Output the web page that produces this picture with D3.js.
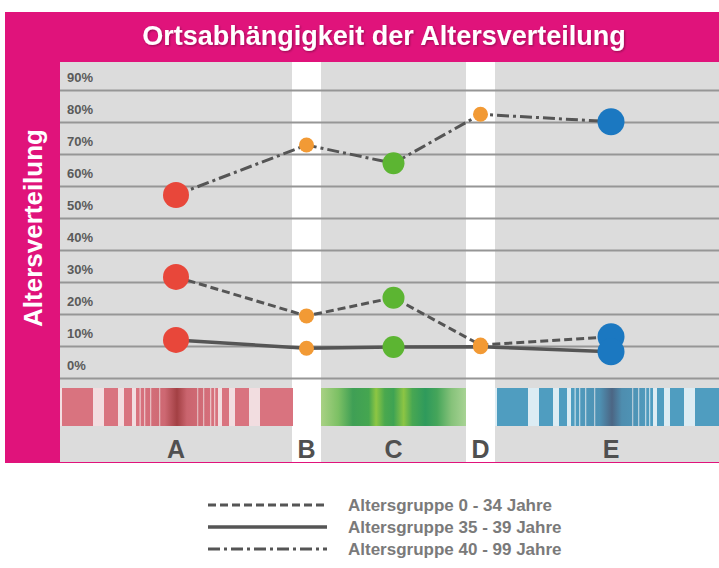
<!DOCTYPE html>
<html>
<head>
<meta charset="utf-8">
<script src="https://cdn.jsdelivr.net/npm/d3@7"></script>
<style>
  html, body { margin: 0; padding: 0; background: #ffffff; }
  svg { display: block; }
  text { font-family: "Liberation Sans", Arial, Helvetica, sans-serif; }
</style>
</head>
<body>
<svg id="chart" width="719" height="568"></svg>
<script>
// ---------------- DATA ----------------
const categories = ["A", "B", "C", "D", "E"];
const group0to34  = [31.6, 19.4, 25.1, 10.3, 12.9];
const group35to39 = [11.9,  9.3,  9.7,  9.8,  8.2];
const group40to99 = [57.2, 72.8, 67.1, 82.4, 80.1];
const yTickValues = [0, 10, 20, 30, 40, 50, 60, 70, 80, 90];
const seriesNames = ["Altersgruppe 0 - 34 Jahre", "Altersgruppe 35 - 39 Jahre", "Altersgruppe 40 - 99 Jahre"];
const chartTitle = "Ortsabhängigkeit der Altersverteilung";
const yAxisTitle = "Altersverteilung";

// ---------------- LAYOUT / STYLE ----------------
const W = 719, H = 568;
const plot = { left: 60, top: 62, right: 719, bottom: 462 };
const bandUnits = { A: 8, B: 1, C: 5, D: 1, E: 8 };         // relative column widths
const bandFill  = { A: "#dcdcdc", B: "#ffffff", C: "#dcdcdc", D: "#ffffff", E: "#dcdcdc" };
const dotStyle  = {
  A: { fill: "#e8473a", r: 13 },
  B: { fill: "#f29a35", r: 7.5 },
  C: { fill: "#5cb532", r: 11 },
  D: { fill: "#f29a35", r: 7.5 },
  E: { fill: "#1b78c1", r: 13.5 }
};
const seriesDash = ["8,4", null, "12,4,3,4"];
const lineColor = "#555555";
const pink = "#e0137b";

const svg = d3.select("#chart");
const defs = svg.append("defs");

// pink frame
svg.append("rect").attr("x", 5).attr("y", 12).attr("width", W - 5).attr("height", plot.bottom + 1 - 12).attr("fill", pink);

// x scale built on cumulative unit widths
const widths = categories.map(c => bandUnits[c]);
const starts = [0, ...d3.cumsum(widths)];
const unit = d3.scaleLinear().domain([0, d3.sum(widths)]).range([plot.left, plot.left + d3.sum(widths) * 29]);
const bandX0 = c => unit(starts[categories.indexOf(c)]);
const bandX1 = c => unit(starts[categories.indexOf(c) + 1]);
const xCenter = c => (bandX0(c) + bandX1(c)) / 2;

const y = d3.scaleLinear().domain([0, 90]).range([378, 90]);

// clip to plot
defs.append("clipPath").attr("id", "plotClip").append("rect")
  .attr("x", plot.left).attr("y", plot.top).attr("width", plot.right - plot.left).attr("height", plot.bottom - plot.top);

const g = svg.append("g").attr("clip-path", "url(#plotClip)");

// column backgrounds
g.selectAll("rect.band").data(categories).join("rect")
  .attr("class", "band")
  .attr("x", d => bandX0(d)).attr("y", plot.top)
  .attr("width", d => bandX1(d) - bandX0(d)).attr("height", plot.bottom - plot.top)
  .attr("fill", d => bandFill[d]);

// gridlines + tick labels via axis
const axis = d3.axisRight(y).tickValues(yTickValues).tickSize(plot.right - plot.left).tickFormat(d => d + "%");
const ax = g.append("g").attr("transform", `translate(${plot.left},0)`).call(axis);
ax.select(".domain").remove();
ax.selectAll(".tick line").attr("stroke", "#969696").attr("stroke-width", 2);
ax.selectAll(".tick text")
  .attr("x", 7).attr("dy", -8.5).attr("text-anchor", "start")
  .attr("fill", "#5a5a5a").attr("font-size", 13).attr("font-weight", "bold")
  .style("font-family", "'Liberation Sans', Arial, sans-serif");

// ---------- barcode strips ----------
const stripY = 388, stripH = 38;
// pattern relative to column centre (decoration)
const barSegs = [[-114, -83], [-72, -58], [-52, -44], [-40, 42], [46, 53], [59, 73], [84, 117]];
const barGaps = [-36.5, -32, -26, -17, 21, 27, 34, 38];
function barcode(cat, col, gapCol, darkCol) {
  const cx = xCenter(cat);
  const x0 = bandX0(cat), x1 = bandX1(cat);
  const bg = g.append("g");
  bg.append("rect").attr("x", x0).attr("y", stripY).attr("width", x1 - x0).attr("height", stripH).attr("fill", gapCol);
  bg.selectAll("rect.seg").data(barSegs).join("rect").attr("class", "seg")
    .attr("x", d => cx + d[0]).attr("y", stripY).attr("width", d => d[1] - d[0]).attr("height", stripH).attr("fill", col);
  bg.selectAll("rect.gap").data(barGaps).join("rect").attr("class", "gap")
    .attr("x", d => cx + d).attr("y", stripY).attr("width", 1.3).attr("height", stripH).attr("fill", gapCol).attr("opacity", 0.8);
  const gid = "dark" + cat;
  const lg = defs.append("linearGradient").attr("id", gid).attr("gradientUnits", "userSpaceOnUse")
    .attr("x1", cx - 40).attr("x2", cx + 42).attr("y1", 0).attr("y2", 0);
  [[0, 0], [0.35, 0.15], [0.5, 0.7], [0.62, 0.2], [1, 0]].forEach(s =>
    lg.append("stop").attr("offset", s[0]).attr("stop-color", darkCol).attr("stop-opacity", s[1]));
  bg.append("rect").attr("x", cx - 40).attr("y", stripY).attr("width", 82).attr("height", stripH).attr("fill", `url(#${gid})`);
}
barcode("A", "#d9737f", "#f2dde0", "#8c2a2a");
barcode("E", "#4f9dc0", "#dcecf3", "#4a4e6a");

// green gradient strip for C
{
  const x0 = bandX0("C"), x1 = bandX1("C");
  const lg = defs.append("linearGradient").attr("id", "greenC").attr("x1", 0).attr("x2", 1).attr("y1", 0).attr("y2", 0);
  [[0, "#a9d184"], [0.12, "#7cc064"], [0.22, "#3f9f55"], [0.33, "#45a650"], [0.38, "#8dc643"], [0.44, "#4aa84e"],
   [0.5, "#3fa353"], [0.57, "#8cc544"], [0.63, "#48a752"], [0.72, "#2f9a5c"], [0.8, "#45a55a"], [0.9, "#86c27a"], [1, "#a8d394"]]
    .forEach(s => lg.append("stop").attr("offset", s[0]).attr("stop-color", s[1]));
  g.append("rect").attr("x", x0).attr("y", stripY).attr("width", x1 - x0).attr("height", stripH).attr("fill", "url(#greenC)");
}

// category letters
g.selectAll("text.cat").data(categories).join("text").attr("class", "cat")
  .attr("x", d => xCenter(d)).attr("y", 458).attr("text-anchor", "middle")
  .attr("font-size", 25).attr("font-weight", "bold").attr("fill", "#505050")
  .text(d => d);

// ---------- series lines ----------
const series = [group0to34, group35to39, group40to99];
const line = d3.line().x((d, i) => xCenter(categories[i])).y(d => y(d));
const lg2 = g.append("g");
series.forEach((s, k) => {
  lg2.append("path").datum(s).attr("d", line)
    .attr("fill", "none").attr("stroke", lineColor).attr("stroke-width", k === 1 ? 3.5 : 3)
    .attr("stroke-dasharray", seriesDash[k]);
});
// dots
series.forEach(s => {
  g.append("g").selectAll("circle").data(s).join("circle")
    .attr("cx", (d, i) => xCenter(categories[i]))
    .attr("cy", d => y(d))
    .attr("r", (d, i) => dotStyle[categories[i]].r)
    .attr("fill", (d, i) => dotStyle[categories[i]].fill);
});

// ---------- titles ----------
const sh = defs.append("filter").attr("id", "shadow").attr("x", "-5%").attr("y", "-20%").attr("width", "110%").attr("height", "140%");
sh.append("feDropShadow").attr("dx", 1).attr("dy", 1).attr("stdDeviation", 1).attr("flood-color", "#000").attr("flood-opacity", 0.35);

svg.append("text").attr("x", 384).attr("y", 45).attr("text-anchor", "middle")
  .attr("font-size", 27).attr("font-weight", "bold").attr("fill", "#ffffff")
  .attr("filter", "url(#shadow)").text(chartTitle);

svg.append("text").attr("transform", "translate(42,228) rotate(-90)").attr("text-anchor", "middle")
  .attr("font-size", 26).attr("font-weight", "bold").attr("fill", "#ffffff")
  .text(yAxisTitle);

// ---------- legend ----------
const legend = svg.append("g");
seriesNames.forEach((name, k) => {
  const ly = 505 + k * 22;
  legend.append("line").attr("x1", 208).attr("x2", 327).attr("y1", ly).attr("y2", ly)
    .attr("stroke", lineColor).attr("stroke-width", k === 1 ? 3.5 : 3)
    .attr("stroke-dasharray", seriesDash[k]);
  legend.append("text").attr("x", 348).attr("y", ly + 6)
    .attr("font-size", 17).attr("font-weight", "bold").attr("fill", "#7a7a7a").text(name);
});
</script>
</body>
</html>
